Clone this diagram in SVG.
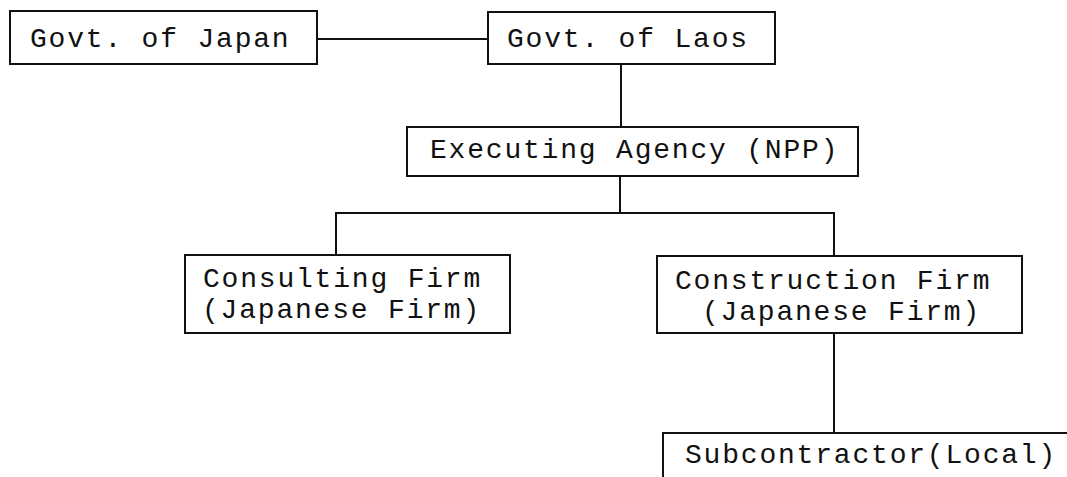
<svg xmlns="http://www.w3.org/2000/svg" width="1067" height="477" viewBox="0 0 1067 477">
<style>
.box{fill:#fff;stroke:#111;stroke-width:2}
.t{font-family:"Liberation Mono","DejaVu Sans Mono",monospace;font-size:28px;letter-spacing:1.8px;fill:#111}
.c{stroke:#111;stroke-width:2;fill:none}
</style>
<rect width="1067" height="477" fill="#fff"/>
<g id="connectors">
<line class="c" x1="317" y1="39" x2="488" y2="39"/>
<line class="c" x1="621" y1="64" x2="621" y2="127"/>
<line class="c" x1="620" y1="176" x2="620" y2="213"/>
<polyline class="c" points="336,255 336,213 834,213 834,256"/>
<line class="c" x1="834" y1="333" x2="834" y2="433"/>
</g>
<g id="govt-japan">
<rect class="box" x="10" y="11" width="307" height="53"/>
<text class="t" x="30" y="47">Govt. of Japan</text>
</g>
<g id="govt-laos">
<rect class="box" x="488" y="12" width="287" height="52"/>
<text class="t" x="507" y="47">Govt. of Laos</text>
</g>
<g id="executing-agency">
<rect class="box" x="407" y="127" width="451" height="49"/>
<text class="t" x="430" y="158">Executing Agency (NPP)</text>
</g>
<g id="consulting-firm">
<rect class="box" x="185" y="255" width="325" height="78"/>
<text class="t" x="203" y="287">Consulting Firm</text>
<text class="t" x="202" y="318">(Japanese Firm)</text>
</g>
<g id="construction-firm">
<rect class="box" x="657" y="256" width="365" height="77"/>
<text class="t" x="675" y="289">Construction Firm</text>
<text class="t" x="702" y="320">(Japanese Firm)</text>
</g>
<g id="subcontractor">
<rect class="box" x="663" y="433" width="420" height="60"/>
<text class="t" x="685" y="463">Subcontractor(Local)</text>
</g>
</svg>
